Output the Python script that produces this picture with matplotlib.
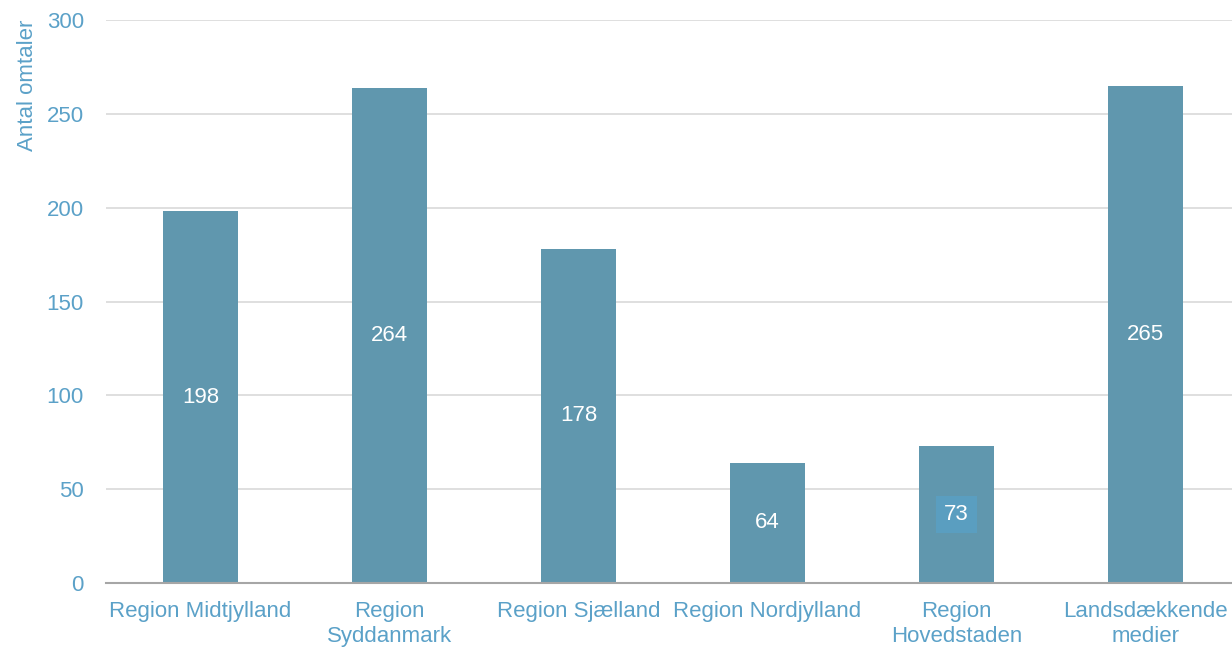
import numpy as np
import matplotlib.pyplot as plt

plt.rcParams['font.family'] = ['Liberation Sans', 'DejaVu Sans']

# Data
regioner = ['Region Midtjylland', 'Region\nSyddanmark', 'Region Sjælland',
            'Region Nordjylland', 'Region\nHovedstaden', 'Landsdækkende\nmedier']
omtaler = [198, 264, 178, 64, 73, 265]

bar_farve = '#6097AE'
tekst_farve = '#5BA1C8'

fig = plt.figure(figsize=(12.32, 6.49), dpi=100)
ax = fig.add_axes([106/1232, (649-583)/649, 1134/1232, 563/649])

x = np.arange(len(regioner))
bars = ax.bar(x, omtaler, width=0.4, color=bar_farve, zorder=3)

# Værdier midt i søjlerne
for i, v in enumerate(omtaler):
    kw = {}
    if v == 73:
        kw['bbox'] = dict(boxstyle='square,pad=0.35', fc='#5A9EC0', ec='none')
    ax.text(i, v/2, str(v), ha='center', va='center', color='white',
            fontsize=16, zorder=4, **kw)

ax.set_xlim(-0.5, len(regioner)-0.5)
ax.set_ylim(0, 300)
ax.set_yticks(np.arange(0, 301, 50))
ax.set_xticks(x)
ax.set_xticklabels(regioner, color=tekst_farve, fontsize=16, linespacing=1.25)
ax.tick_params(axis='y', colors=tekst_farve, labelsize=16, length=0, pad=16)
ax.tick_params(axis='x', length=0, pad=13)

ax.yaxis.grid(True, color='#D9D9D9', linewidth=1.2, zorder=0)
for s in ['top', 'right', 'left']:
    ax.spines[s].set_visible(False)
ax.spines['bottom'].set_color('#A6A6A6')
ax.spines['bottom'].set_linewidth(1.5)
ax.spines['bottom'].set_zorder(5)

ax.set_ylabel('Antal omtaler', color=tekst_farve, fontsize=16)
ax.yaxis.set_label_coords(-0.06, 1.0)
ax.yaxis.label.set_ha('right')

plt.savefig('out.png', dpi=100)
